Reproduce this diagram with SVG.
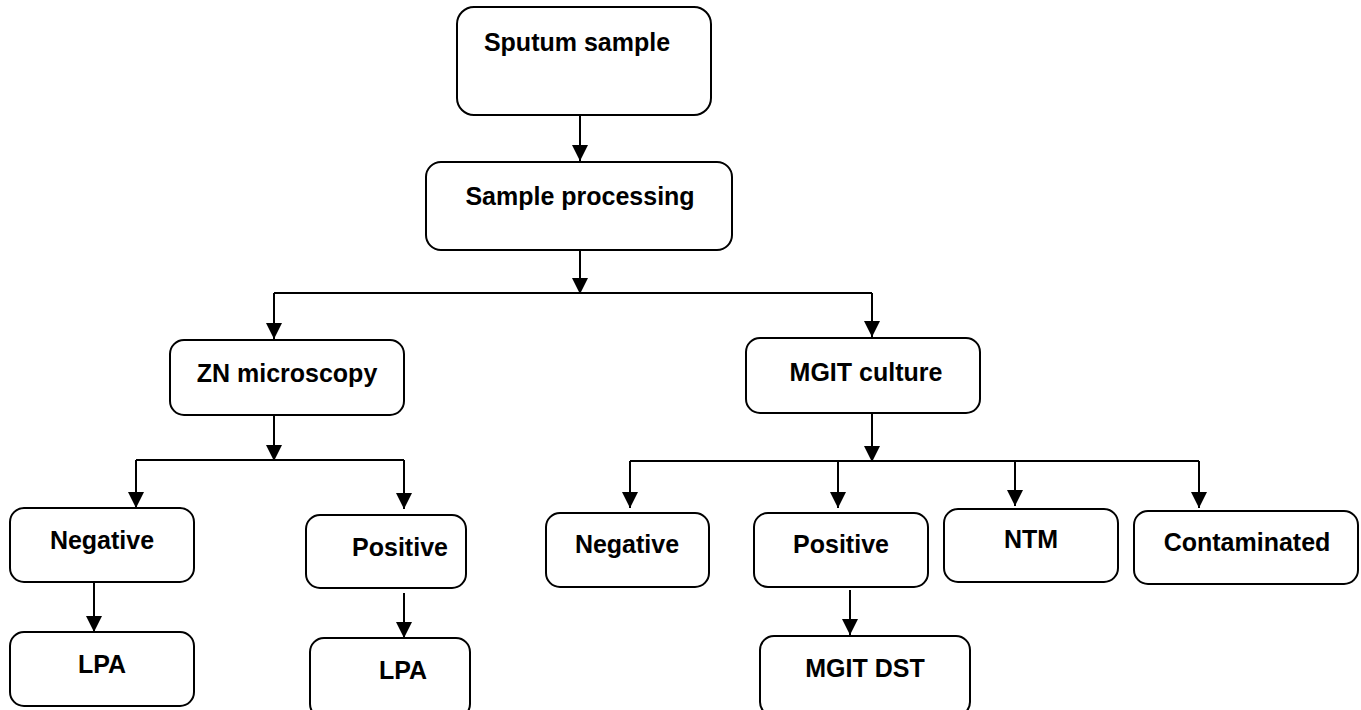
<svg xmlns="http://www.w3.org/2000/svg" width="1361" height="710" viewBox="0 0 1361 710">
<style>
.box{fill:#fff;stroke:#000;stroke-width:2}
.lbl{font-family:"Liberation Sans",Arial,sans-serif;font-weight:bold;font-size:25px;fill:#000;text-anchor:middle}
.ln{fill:none;stroke:#000;stroke-width:2}
</style>
<defs>
<marker id="ah" markerUnits="userSpaceOnUse" markerWidth="16" markerHeight="16" refX="15" refY="7.5" orient="auto" viewBox="0 0 15 15">
<path d="M0,0 L15,7.5 L0,15 z" fill="#000"/>
</marker>
</defs>
<rect width="1361" height="710" fill="#fff"/>
<g id="connectors">
<line class="ln" x1="580" y1="115" x2="580" y2="161" marker-end="url(#ah)"/>
<line class="ln" x1="580" y1="250" x2="580" y2="294" marker-end="url(#ah)"/>
<polyline class="ln" points="274,293 872,293"/>
<line class="ln" x1="274" y1="293" x2="274" y2="339" marker-end="url(#ah)"/>
<line class="ln" x1="872" y1="293" x2="872" y2="337" marker-end="url(#ah)"/>
<line class="ln" x1="274" y1="415" x2="274" y2="461" marker-end="url(#ah)"/>
<polyline class="ln" points="136,460 404,460"/>
<line class="ln" x1="136" y1="460" x2="136" y2="508" marker-end="url(#ah)"/>
<line class="ln" x1="404" y1="460" x2="404" y2="509" marker-end="url(#ah)"/>
<line class="ln" x1="94" y1="582" x2="94" y2="632" marker-end="url(#ah)"/>
<line class="ln" x1="404" y1="593" x2="404" y2="638" marker-end="url(#ah)"/>
<line class="ln" x1="872" y1="413" x2="872" y2="462" marker-end="url(#ah)"/>
<polyline class="ln" points="630,461 1199,461"/>
<line class="ln" x1="630" y1="461" x2="630" y2="508" marker-end="url(#ah)"/>
<line class="ln" x1="838" y1="461" x2="838" y2="508" marker-end="url(#ah)"/>
<line class="ln" x1="1015" y1="461" x2="1015" y2="506" marker-end="url(#ah)"/>
<line class="ln" x1="1199" y1="461" x2="1199" y2="508" marker-end="url(#ah)"/>
<line class="ln" x1="850" y1="590" x2="850" y2="635" marker-end="url(#ah)"/>
</g>
<g id="sputum"><rect class="box" x="457" y="7" width="254" height="108" rx="17"/><text class="lbl" x="577" y="51">Sputum sample</text></g>
<g id="processing"><rect class="box" x="426" y="162" width="306" height="88" rx="15"/><text class="lbl" x="580" y="205">Sample processing</text></g>
<g id="zn"><rect class="box" x="170" y="340" width="234" height="75" rx="14"/><text class="lbl" x="287" y="382">ZN microscopy</text></g>
<g id="mgit"><rect class="box" x="746" y="338" width="234" height="75" rx="14"/><text class="lbl" x="866" y="381">MGIT culture</text></g>
<g id="zn-neg"><rect class="box" x="10" y="508" width="184" height="74" rx="14"/><text class="lbl" x="102" y="549">Negative</text></g>
<g id="zn-pos"><rect class="box" x="306" y="515" width="160" height="73" rx="14"/><text class="lbl" x="400" y="556">Positive</text></g>
<g id="lpa1"><rect class="box" x="10" y="632" width="184" height="74" rx="14"/><text class="lbl" x="102" y="673">LPA</text></g>
<g id="lpa2"><rect class="box" x="310" y="638" width="160" height="80" rx="14"/><text class="lbl" x="403" y="679">LPA</text></g>
<g id="m-neg"><rect class="box" x="546" y="513" width="163" height="74" rx="14"/><text class="lbl" x="627" y="553">Negative</text></g>
<g id="m-pos"><rect class="box" x="754" y="513" width="174" height="74" rx="14"/><text class="lbl" x="841" y="553">Positive</text></g>
<g id="ntm"><rect class="box" x="944" y="509" width="174" height="73" rx="14"/><text class="lbl" x="1031" y="548">NTM</text></g>
<g id="contam"><rect class="box" x="1134" y="511" width="224" height="73" rx="14"/><text class="lbl" x="1247" y="551">Contaminated</text></g>
<g id="dst"><rect class="box" x="760" y="636" width="210" height="80" rx="14"/><text class="lbl" x="865" y="677">MGIT DST</text></g>
</svg>
